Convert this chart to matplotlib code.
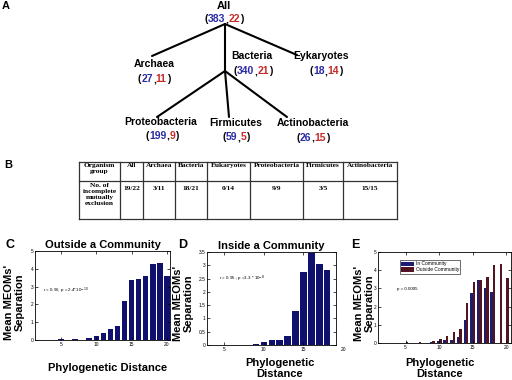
import matplotlib
matplotlib.use('Agg')
import matplotlib.pyplot as plt

# ---------------- data ----------------
tree_names = ['All', 'Archaea', 'Bacteria', 'Eykaryotes',
              'Proteobacteria', 'Firmicutes', 'Actinobacteria']
tree_total = [383, 27, 340, 18, 199, 59, 26]
tree_excl = [22, 11, 21, 14, 9, 5, 15]

table_groups = ['All', 'Archaea', 'Bacteria', 'Eukaryotes',
                'Proteobacteria', 'Firmicutes', 'Actinobacteria']
table_counts = ['19/22', '3/11', '18/21', '0/14', '9/9', '3/5', '15/15']

outside_dist = [5, 7, 9, 10, 11, 12, 13, 14, 15, 16, 17, 18, 19, 20]
outside_sep = [0.07, 0.06, 0.09, 0.20, 0.37, 0.60, 0.77, 2.19, 3.37, 3.45,
               3.60, 4.26, 4.35, 3.57]
inside_dist = [9, 10, 11, 12, 13, 14, 15, 16, 17, 18]
inside_sep = [0.03, 0.10, 0.19, 0.18, 0.32, 1.27, 2.73, 3.47, 3.04, 2.81]

# ---------------- style ----------------
SANS = 'Liberation Sans'
SERIF = 'Liberation Serif'
BLUE_T = '#2a2aa6'
RED_T = '#c62a2a'
NAVY = '#10106e'
E_BLUE = '#1c1c70'
E_RED = '#521420'

fig = plt.figure(figsize=(5.12, 3.8), dpi=100)
fig.patch.set_facecolor('white')
ov = fig.add_axes([0, 0, 1, 1])
ov.set_xlim(0, 512)
ov.set_ylim(380, 0)
ov.axis('off')
renderer = fig.canvas.get_renderer()

# ---------------- panel A: tree ----------------
name_pos = {'All': (224, 6), 'Archaea': (154, 64), 'Bacteria': (252, 56),
            'Eykaryotes': (321, 56), 'Proteobacteria': (161, 122),
            'Firmicutes': (236, 123), 'Actinobacteria': (313, 123)}
count_pos = {'All': (224, 18), 'Archaea': (154, 78), 'Bacteria': (253, 70),
             'Eykaryotes': (326, 70), 'Proteobacteria': (162, 135),
             'Firmicutes': (236, 136), 'Actinobacteria': (313, 137)}
edges = [((225, 24), (152, 56)), ((225, 24), (225, 71)), ((225, 24), (297, 55)),
         ((225, 71), (157, 117)), ((225, 71), (229, 117)), ((225, 71), (287, 117))]
for (x0, y0), (x1, y1) in edges:
    ov.plot([x0, x1], [y0, y1], color='black', lw=1.5, solid_capstyle='round')

cfont = dict(fontsize=7.5, fontweight='bold', family=SANS, va='center_baseline')


def text_width(s):
    probe = ov.text(0, 0, s, **cfont)
    w = probe.get_window_extent(renderer).width
    probe.remove()
    return w


def rainbow(cx, cy, parts):
    full = ''.join(t for t, _ in parts)
    left = cx - text_width(full) / 2
    prefix = ''
    for t, c in parts:
        prefix += t
        ov.text(left + text_width(prefix), cy, t, color=c, ha='right', **cfont)


for name, tot, exc in zip(tree_names, tree_total, tree_excl):
    nx, ny = name_pos[name]
    ov.text(nx, ny, name, ha='center', va='center', fontsize=8 if name == 'All' else 7.5,
            fontweight='bold', family=SANS)
    cx, cy = count_pos[name]
    rainbow(cx, cy, [('(', 'black'), (str(tot), BLUE_T), (',', 'black'),
                     (str(exc), RED_T), (')', 'black')])

ov.text(6, 6, 'A', fontsize=8, fontweight='bold', family=SANS, ha='center', va='center')
ov.text(8, 165, 'B', fontsize=8, fontweight='bold', family=SANS, ha='center', va='center')

# ---------------- panel B: table ----------------
col_edges = [79, 120, 143, 175, 207, 250, 303, 343, 397]
row_edges = [162, 181, 219]
for x in col_edges:
    ov.plot([x, x], [row_edges[0], row_edges[-1]], color='#333333', lw=0.9)
for y in row_edges:
    ov.plot([col_edges[0], col_edges[-1]], [y, y], color='#333333', lw=0.9)

tfont = dict(fontsize=5.3, fontweight='bold', family=SERIF, ha='center', va='top',
             linespacing=1.25)
ov.text((col_edges[0] + col_edges[1]) / 2, 163, 'Organism\ngroup', **tfont)
ov.text((col_edges[0] + col_edges[1]) / 2, 183,
        'No. of\nincomplete\nmutually\nexclusion', **tfont)
for i, (g, c) in enumerate(zip(table_groups, table_counts)):
    xc = (col_edges[i + 1] + col_edges[i + 2]) / 2
    ov.text(xc, 163, g, **tfont)
    ov.text(xc, 186, c, **tfont)


def style_axes(ax):
    ax.tick_params(direction='in', length=2, width=0.5, labelsize=3.5, pad=1.2,
                   top=True, right=True)
    for s in ax.spines.values():
        s.set_linewidth(0.6)
    for lab in ax.get_xticklabels() + ax.get_yticklabels():
        lab.set_family(SANS)


def pix_axes(l, r, t, b):
    return fig.add_axes([l / 512, 1 - b / 380, (r - l) / 512, (b - t) / 380])


lab_font = dict(fontsize=8, fontweight='bold', family=SANS)

# ---------------- panel C ----------------
axC = pix_axes(35, 170, 251, 340)
axC.bar(outside_dist, outside_sep, width=0.8, color=NAVY, edgecolor='none')
axC.set_xlim(1.3, 20.45)
axC.set_ylim(0, 5)
axC.set_xticks([5, 10, 15, 20])
axC.set_yticks([0, 1, 2, 3, 4, 5])
style_axes(axC)
axC.text(2.5, 2.75, r'r = 0.96, p = 2.4*10$^{-10}$', fontsize=3.2, family=SANS,
         va='center')
axC.set_title('Outside a Community', pad=2, **lab_font)
axC.set_xlabel('Phylogenetic Distance', **lab_font)
axC.xaxis.set_label_coords((107.5 - 35) / 135, (340 - 368) / 89)
axC.xaxis.label.set_va('center')
axC.set_ylabel("Mean MEOMs'\nSeparation", linespacing=1.1, **lab_font)
axC.yaxis.set_label_coords((14 - 35) / 135, (340 - 302) / 89)
axC.yaxis.label.set_va('center')

# ---------------- panel D ----------------
axD = pix_axes(207, 336, 252, 345)
axD.bar(inside_dist, inside_sep, width=0.8, color=NAVY, edgecolor='none')
axD.set_xlim(2.85, 19.1)
axD.set_ylim(0, 3.5)
axD.set_xticks([5, 10, 15])
axD.set_yticks([0, 0.5, 1, 1.5, 2, 2.5, 3, 3.5])
axD.set_yticklabels(['0', '0.5', '1', '1.5', '2', '2.5', '3', '3.5'])
style_axes(axD)
axD.text(20, -0.08, '20', fontsize=3.5, family=SANS, ha='center', va='top',
         clip_on=False)
axD.text(4.3, 2.5, r'r = 0.95 ; p =3.3 * 10$^{-8}$', fontsize=3.2, family=SANS,
         va='center')
axD.set_title('Inside a Community', pad=2, **lab_font)
axD.set_xlabel('Phylogenetic\nDistance', linespacing=1.1, **lab_font)
axD.xaxis.set_label_coords((280 - 207) / 129, (345 - 368.5) / 93)
axD.xaxis.label.set_va('center')
axD.set_ylabel("Mean MEOMs'\nSeparation", linespacing=1.1, **lab_font)
axD.yaxis.set_label_coords((183 - 207) / 129, (345 - 303) / 93)
axD.yaxis.label.set_va('center')

# ---------------- panel E ----------------
axE = pix_axes(378, 511, 252, 343)
axE.bar([d - 0.18 for d in inside_dist], inside_sep, width=0.36, color=E_BLUE,
        edgecolor='none', label='In Community')
axE.bar([d + 0.18 for d in outside_dist], outside_sep, width=0.36, color=E_RED,
        edgecolor='none', label='Outside Community')
axE.set_xlim(0.9, 20.7)
axE.set_ylim(0, 5)
axE.set_xticks([5, 10, 15, 20])
axE.set_yticks([0, 1, 2, 3, 4, 5])
style_axes(axE)
leg = axE.legend(loc='upper left', bbox_to_anchor=((400 - 378) / 133, (343 - 260) / 91),
                 fontsize=3.5, frameon=True, fancybox=False, borderpad=0.3,
                 handlelength=2.6, handleheight=1.0, labelspacing=0.15,
                 handletextpad=0.3, borderaxespad=0)
leg.get_frame().set_edgecolor('black')
leg.get_frame().set_linewidth(0.5)
for t in leg.get_texts():
    t.set_family(SANS)
axE.text(3.7, 2.97, 'p = 0.0005', fontsize=3.2, family=SANS, va='center')
axE.set_xlabel('Phylogenetic\nDistance', linespacing=1.1, **lab_font)
axE.xaxis.set_label_coords((440 - 378) / 133, (343 - 368.5) / 91)
axE.xaxis.label.set_va('center')
axE.set_ylabel("Mean MEOMs'\nSeparation", linespacing=1.1, **lab_font)
axE.yaxis.set_label_coords((364 - 378) / 133, (343 - 303) / 91)
axE.yaxis.label.set_va('center')

# panel letters
ov.text(10, 245, 'C', fontsize=9, fontweight='bold', family=SANS, ha='center', va='center')
ov.text(183, 245, 'D', fontsize=9, fontweight='bold', family=SANS, ha='center', va='center')
ov.text(355, 245, 'E', fontsize=9, fontweight='bold', family=SANS, ha='center', va='center')

fig.savefig('out.png', dpi=100)
